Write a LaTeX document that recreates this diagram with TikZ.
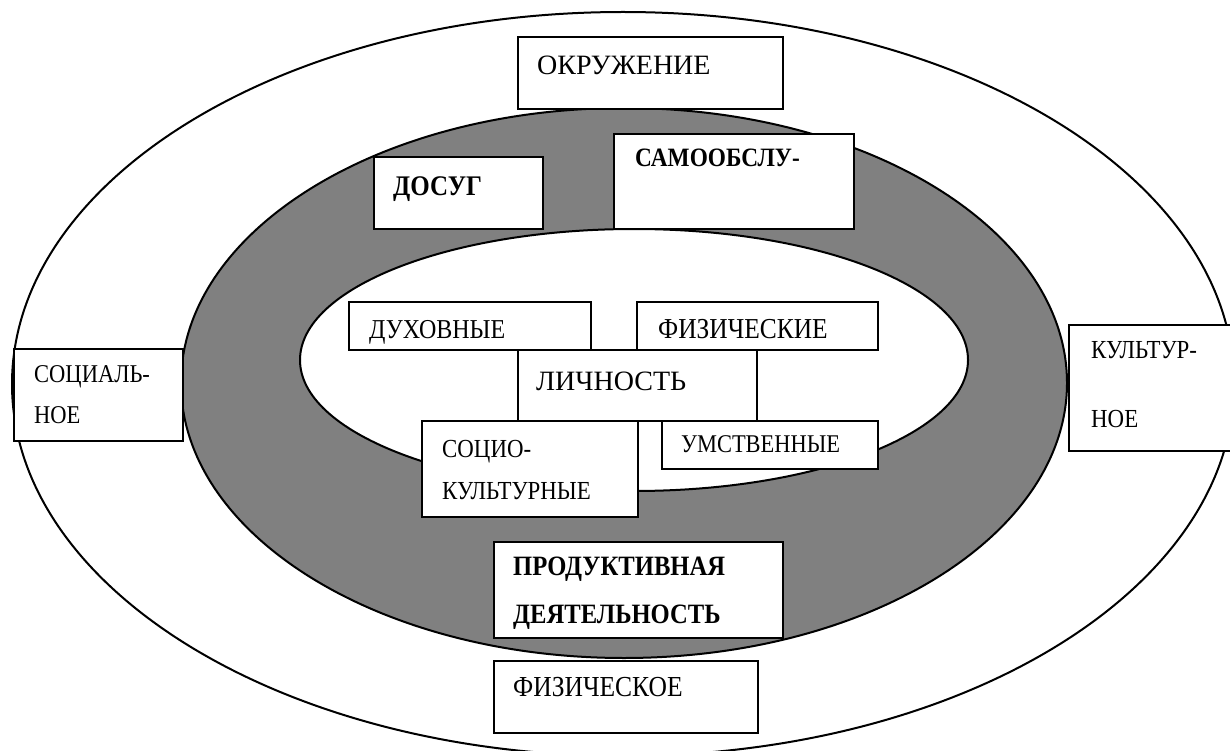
\documentclass[tikz,border=0pt]{standalone}
\usepackage{fontspec}
\setmainfont{Liberation Serif}[FakeStretch=0.88]
\newfontfamily\widefam{Liberation Serif}
\definecolor{ringgray}{RGB}{128,128,128}
\newcommand{\fsz}[1]{\fontsize{#1}{#1}\selectfont}
\begin{document}
\begin{tikzpicture}[x=1pt,y=-1pt,
  box/.style={draw=black, line width=2pt, fill=white, rectangle, inner sep=0pt, anchor=north west},
  lbl/.style={anchor=base west, inner sep=0pt},
  ring/.style={line width=2pt}]
\useasboundingbox (0,0) rectangle (1230,751);
\clip (0,0) rectangle (1230,751);
% ellipses
\draw[ring, fill=white] (623,384) ellipse [x radius=611, y radius=372];
\draw[ring, fill=ringgray] (624,383) ellipse [x radius=443, y radius=275];
\draw[ring, fill=white] (634,360) ellipse [x radius=334, y radius=131];
% outer boxes
\node[box, minimum width=265, minimum height=72] (okr) at (517,36) {};
\node[lbl, font=\widefam\fsz{28}] (okrT) at (537,75) {ОКРУЖЕНИЕ};
\node[box, minimum width=169, minimum height=92] (sots) at (13,348) {};
\node[lbl, font=\fsz{25.6}] (sotsA) at (34,382) {СОЦИАЛЬ-};
\node[lbl, font=\fsz{25.6}] (sotsB) at (34,423) {НОЕ};
\node[box, minimum width=170, minimum height=126] (kult) at (1068,324) {};
\node[lbl, font=\fsz{26}] (kultA) at (1091,358) {КУЛЬТУР-};
\node[lbl, font=\fsz{26}] (kultB) at (1091,427) {НОЕ};
\node[box, minimum width=264, minimum height=72] (fiz) at (493,660) {};
\node[lbl, font=\fsz{29}] (fizT) at (513,696) {ФИЗИЧЕСКОЕ};
% ring boxes
\node[box, minimum width=169, minimum height=72] (dos) at (373,156) {};
\node[lbl, font=\fsz{28.4}\bfseries] (dosT) at (393,196) {ДОСУГ};
\node[box, minimum width=240, minimum height=95] (sam) at (613,133) {};
\node[lbl, font=\fsz{26.5}\bfseries] (samT) at (635,167) {САМООБСЛУ-};
\node[box, minimum width=289, minimum height=96] (prod) at (493,541) {};
\node[lbl, font=\fsz{28}\bfseries] (prodA) at (513,575) {ПРОДУКТИВНАЯ};
\node[lbl, font=\fsz{28}\bfseries] (prodB) at (513,623) {ДЕЯТЕЛЬНОСТЬ};
% inner boxes
\node[box, minimum width=242, minimum height=48] (duh) at (348,301) {};
\node[lbl, font=\fsz{27.3}] (duhT) at (369,338) {ДУХОВНЫЕ};
\node[box, minimum width=241, minimum height=48] (fizi) at (636,301) {};
\node[lbl, font=\fsz{28.9}] (fiziT) at (658,338) {ФИЗИЧЕСКИЕ};
\node[box, minimum width=216, minimum height=96] (soc) at (421,420) {};
\node[lbl, font=\fsz{26}] (socA) at (442,457) {СОЦИО-};
\node[lbl, font=\fsz{26}] (socB) at (442,499) {КУЛЬТУРНЫЕ};
\node[box, minimum width=216, minimum height=48] (umst) at (661,420) {};
\node[lbl, font=\fsz{25.5}] (umstT) at (681,452) {УМСТВЕННЫЕ};
\node[box, minimum width=239, minimum height=71] (lich) at (517,349) {};
\node[lbl, font=\widefam\fsz{28}] (lichT) at (536,390) {ЛИЧНОСТЬ};
\end{tikzpicture}
\end{document}
